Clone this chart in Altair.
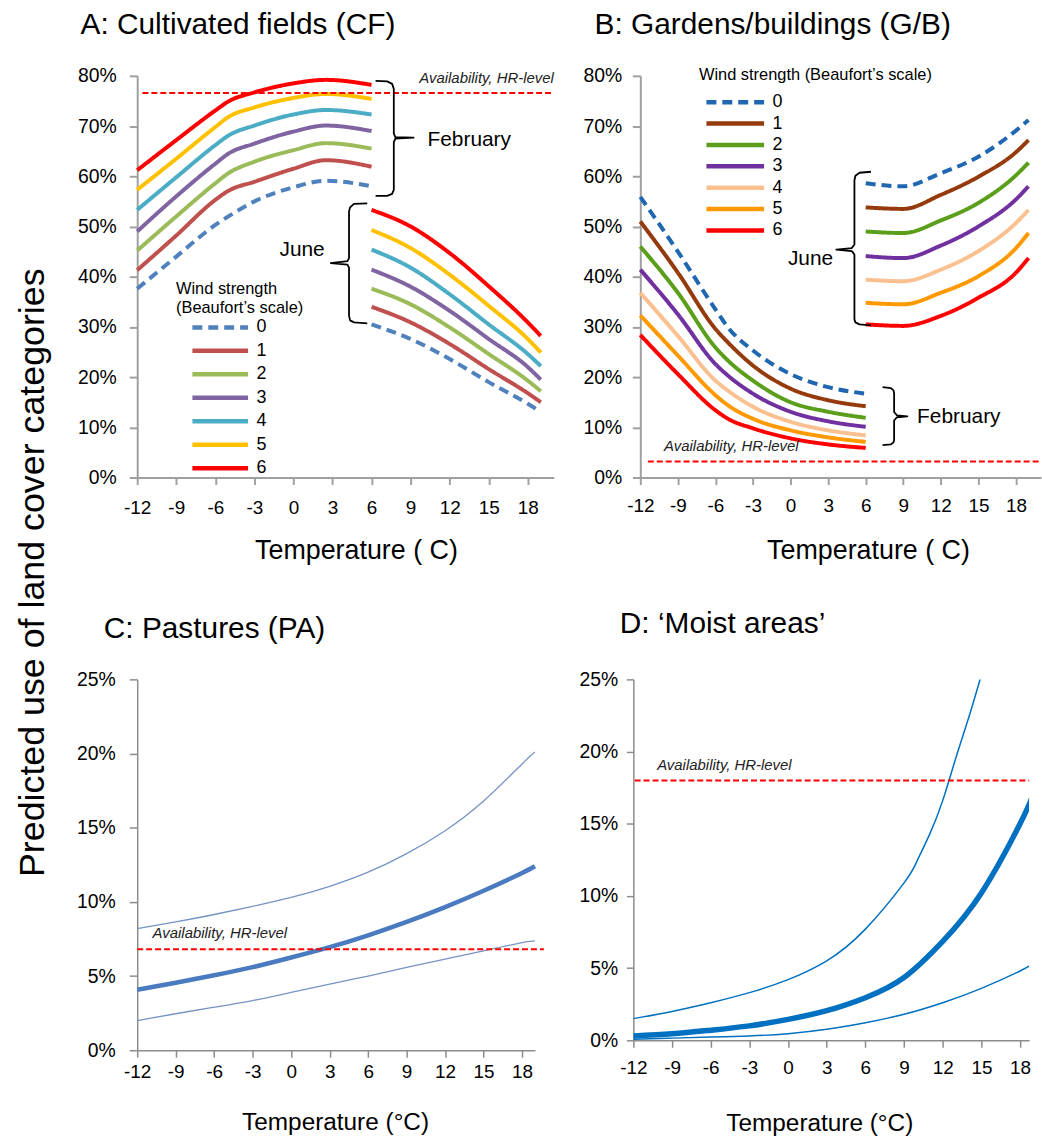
import altair as alt
import pandas as pd

FONT = "Liberation Sans"

wind_levels = ["0", "1", "2", "3", "4", "5", "6"]
x_ticks = [-12, -9, -6, -3, 0, 3, 6, 9, 12, 15, 18]

# ---------------- Panel A: Cultivated fields (CF), values in % ----------------
a_feb_temp = [-12, -9, -6, -5, -3, 0, 2.5, 6]
a_feb = [
    [37.6, 44.0, 50.3, 52.0, 55.0, 57.8, 59.1, 58.0],
    [41.3, 48.2, 55.3, 57.1, 58.9, 61.5, 63.2, 61.9],
    [45.2, 52.0, 58.6, 60.6, 62.9, 65.2, 66.6, 65.5],
    [49.0, 56.0, 62.5, 64.5, 66.5, 68.9, 70.1, 69.0],
    [53.3, 59.8, 66.2, 68.1, 70.1, 72.3, 73.2, 72.3],
    [57.3, 63.5, 69.8, 71.8, 73.7, 75.6, 76.4, 75.4],
    [61.2, 67.2, 73.1, 74.9, 76.7, 78.5, 79.2, 78.2],
]
a_jun_temp = [6, 9, 12, 15, 18, 19]
a_jun = [
    [30.5, 27.6, 23.6, 19.0, 14.7, 13.1],
    [34.0, 30.9, 26.6, 21.6, 16.8, 15.0],
    [37.6, 34.5, 29.9, 24.6, 19.3, 17.2],
    [41.4, 38.0, 33.2, 27.6, 22.0, 19.5],
    [45.4, 41.8, 36.5, 30.5, 24.6, 22.2],
    [49.3, 45.7, 40.4, 34.2, 27.6, 24.9],
    [53.3, 50.0, 44.7, 38.1, 30.9, 28.2],
]
a_colors = ["#4F81BD", "#C0504D", "#9BBB59", "#8064A2", "#4BACC6", "#FFC000", "#FF0000"]
a_avail = 76.6

# ---------------- Panel B: Gardens/buildings (G/B) ----------------
b_feb_temp = [-12, -9, -6, -5, -3, 0, 3, 6]
b_feb = [
    [55.9, 45.0, 33.5, 29.9, 25.3, 20.6, 18.0, 16.7],
    [51.0, 40.8, 29.6, 26.9, 22.3, 17.7, 15.4, 14.2],
    [46.0, 36.8, 25.9, 23.3, 19.3, 15.0, 13.1, 11.9],
    [41.4, 32.5, 22.6, 20.3, 16.7, 13.1, 11.2, 10.1],
    [36.8, 28.2, 19.3, 17.3, 14.1, 11.1, 9.4, 8.4],
    [32.3, 24.3, 16.4, 14.4, 11.7, 9.4, 8.0, 7.1],
    [28.4, 20.6, 13.4, 11.7, 9.8, 7.8, 6.6, 5.9],
]
b_jun_temp = [6, 9, 12, 15, 18, 19]
b_jun = [
    [58.6, 58.0, 60.6, 63.9, 69.1, 71.2],
    [53.8, 53.5, 56.3, 59.9, 64.8, 67.2],
    [49.0, 48.7, 51.2, 54.7, 60.2, 62.7],
    [44.1, 43.7, 46.2, 50.0, 55.4, 58.0],
    [39.4, 39.1, 41.4, 45.1, 50.7, 53.3],
    [34.8, 34.5, 36.8, 40.1, 45.7, 48.7],
    [30.5, 30.2, 32.2, 35.8, 40.8, 43.7],
]
b_colors = ["#1F67B1", "#953A0C", "#5A9E1A", "#7030A0", "#FAC090", "#FF9900", "#FF0000"]
b_avail = 3.2

# ---------------- Panel C: Pastures (PA) ----------------
c_temp = [-12, -9, -6, -3, 0, 3, 6, 9, 12, 15, 18, 19]
c_upper = [8.2, 8.65, 9.15, 9.7, 10.3, 11.05, 12.0, 13.25, 14.8, 16.8, 19.3, 20.1]
c_mean = [4.08, 4.55, 5.05, 5.6, 6.25, 6.95, 7.75, 8.65, 9.65, 10.75, 11.95, 12.4]
c_lower = [2.0, 2.46, 2.9, 3.35, 3.9, 4.46, 5.0, 5.58, 6.14, 6.7, 7.25, 7.37]
c_avail = 6.8

# ---------------- Panel D: 'Moist areas' ----------------
d_upper_temp = [-12, -9, -6, -3, 0, 3, 6, 9, 10, 11, 12, 13, 14, 14.9]
d_upper = [1.5, 2.0, 2.6, 3.3, 4.2, 5.5, 7.7, 10.9, 12.4, 14.3, 16.6, 19.5, 22.3, 25.0]
d_temp = [-12, -9, -6, -3, 0, 3, 6, 9, 12, 15, 18, 19]
d_mean = [0.3, 0.45, 0.7, 1.0, 1.45, 2.05, 2.95, 4.35, 6.85, 10.2, 15.0, 17.0]
d_lower = [0.07, 0.15, 0.22, 0.3, 0.46, 0.76, 1.22, 1.8, 2.6, 3.6, 4.8, 5.3]
d_avail = 18.0

# ---------------- annotation shapes (brackets), in data units ----------------
a_feb_brace_t = [6.31, 7.20, 7.58, 7.71, 7.71, 7.83, 9.23, 7.83, 7.71, 7.71, 7.58, 7.20, 6.31]
a_feb_brace_v = [79.0, 78.9, 78.4, 77.4, 68.5, 67.8, 67.7, 67.5, 66.8, 57.3, 56.5, 56.1, 56.1]
a_jun_brace_t = [5.67, 4.65, 4.35, 4.27, 4.27, 4.15, 2.87, 4.15, 4.27, 4.27, 4.35, 4.65, 5.67]
a_jun_brace_v = [54.6, 54.5, 53.8, 53.0, 43.7, 43.1, 42.7, 42.4, 41.8, 32.2, 31.3, 30.9, 30.7]
b_jun_brace_t = [6.42, 5.50, 5.18, 5.10, 5.10, 4.89, 3.65, 4.89, 5.10, 5.10, 5.18, 5.50, 6.42]
b_jun_brace_v = [60.9, 60.7, 60.1, 59.2, 46.4, 45.7, 45.4, 45.1, 44.4, 31.5, 30.9, 30.5, 30.3]
b_feb_brace_t = [7.35, 8.01, 8.22, 8.27, 8.27, 8.49, 9.33, 8.49, 8.27, 8.27, 8.22, 8.01, 7.35]
b_feb_brace_v = [18.0, 17.8, 17.35, 16.7, 13.06, 12.4, 12.2, 12.0, 11.35, 7.45, 7.0, 6.6, 6.46]


def wind_rows(temps_feb, feb, temps_jun, jun):
    rows = []
    for w, vf, vj in zip(wind_levels, feb, jun):
        for t, v in zip(temps_feb, vf):
            rows.append({"wind": w, "month": "Feb", "temp": t, "val": v / 100})
        for t, v in zip(temps_jun, vj):
            rows.append({"wind": w, "month": "Jun", "temp": t, "val": v / 100})
    return pd.DataFrame(rows)


def curve_df(temps, vals):
    return pd.DataFrame({"temp": temps, "val": [v / 100 for v in vals]})


def brace_df(parts):
    rows = []
    for k, (ts, vs) in enumerate(parts):
        for i, (t, v) in enumerate(zip(ts, vs)):
            rows.append({"b": k, "i": i, "temp": t, "val": v / 100})
    return pd.DataFrame(rows)


def text_df(t, v, label):
    return pd.DataFrame({"temp": [t], "val": [v / 100], "label": [label]})


def rule_df(t1, t2, v):
    return pd.DataFrame({"temp": [t1], "temp2": [t2], "val": [v / 100]})


def x_enc(dmax, title, tx, ty, lpad, tsize, dcol, dw):
    return alt.X(
        "temp:Q",
        scale=alt.Scale(domain=[-12, dmax], nice=False, zero=False),
        axis=alt.Axis(
            values=x_ticks, grid=False, labelFlush=False, labelOverlap=False,
            labelExpr="'' + datum.value",
            labelFont=FONT, labelFontSize=19, labelColor="#000", labelPadding=lpad,
            tickSize=7, tickColor=dcol, tickWidth=dw, domainColor=dcol, domainWidth=dw,
            title=title, titleX=tx, titleY=ty, titleAlign="center", titleBaseline="middle",
            titleFont=FONT, titleFontSize=tsize, titleFontWeight="normal", titleColor="#000",
        ),
    )


def y_enc(dmax, step, lpad, tick, dcol, dw):
    vals = [round(i * step, 4) for i in range(int(round(dmax / step)) + 1)]
    return alt.Y(
        "val:Q",
        scale=alt.Scale(domain=[0, dmax], nice=False, zero=True),
        axis=alt.Axis(
            values=vals, format=".0%", grid=False, title=None,
            labelFont=FONT, labelFontSize=19.5, labelColor="#000", labelPadding=lpad,
            tickSize=tick, tickColor=dcol, tickWidth=dw, domainColor=dcol, domainWidth=dw,
        ),
    )


def avail_layers(x, y, t1, t2, v, tt, tv, talign):
    rule = alt.Chart(rule_df(t1, t2, v)).mark_rule(
        color="#FF0000", strokeWidth=2, strokeDash=[6, 3]
    ).encode(x=x, x2="temp2:Q", y=y)
    txt = alt.Chart(text_df(tt, tv, "Availability, HR-level")).mark_text(
        font=FONT, fontSize=15, fontStyle="italic", color="#222", align=talign, baseline="middle"
    ).encode(x=x, y=y, text="label:N")
    return [rule, txt]


def note(x, y, t, v, label, align):
    return alt.Chart(text_df(t, v, label)).mark_text(
        font=FONT, fontSize=21, color="#000", align=align, baseline="middle"
    ).encode(x=x, y=y, text="label:N")


def braces(x, y, parts):
    return alt.Chart(brace_df(parts)).mark_line(
        color="#000", strokeWidth=1.8, strokeJoin="round"
    ).encode(x=x, y=y, detail="b:N", order="i:Q")


def wind_lines(df, x, y, colors, legend):
    dashes = [[10, 6]] + [[1, 0]] * 6
    return alt.Chart(df).mark_line(strokeWidth=4, interpolate="monotone").encode(
        x=x, y=y,
        color=alt.Color("wind:N", scale=alt.Scale(domain=wind_levels, range=colors), legend=legend),
        strokeDash=alt.StrokeDash("wind:N", scale=alt.Scale(domain=wind_levels, range=dashes), legend=legend),
        detail="month:N",
    )


def panel_title(text, dx, dy=0):
    return alt.TitleParams(
        text, anchor="start", frame="group", dx=dx, dy=dy, offset=26,
        font=FONT, fontSize=30, fontWeight="normal", color="#000",
    )


AB_COL, CD_COL = "#A0A0A0", "#8C8C8C"

# ---------- A ----------
xA = x_enc(20, "Temperature (  C)", 220, 73, 13.7, 27, AB_COL, 2)
yA = y_enc(0.8, 0.1, 13, 8, AB_COL, 2)
legA = alt.Legend(
    title=["Wind strength", "(Beaufort\u2019s scale)"], orient="none", legendX=39, legendY=206,
    titleFont=FONT, titleFontSize=16.5, titleFontWeight="normal", titleColor="#000",
    titleLineHeight=20, titlePadding=2, titleLimit=400,
    labelFont=FONT, labelFontSize=18, labelColor="#000", labelOffset=6,
    symbolType="stroke", symbolSize=56 * 56, symbolStrokeWidth=4.5, symbolOffset=14,
    clipHeight=17, rowPadding=4.6,
)
chartA = alt.layer(
    wind_lines(wind_rows(a_feb_temp, a_feb, a_jun_temp, a_jun), xA, yA, a_colors, legA),
    *avail_layers(xA, yA, -11.6, 20, a_avail, 20, 79.6, "right"),
    braces(xA, yA, [(a_feb_brace_t, a_feb_brace_v), (a_jun_brace_t, a_jun_brace_v)]),
    note(xA, yA, 10.3, 67.3, "February", "left"),
    note(xA, yA, 2.4, 45.4, "June", "right"),
).properties(width=419, height=404, title=panel_title("A: Cultivated fields (CF)", -57))

# ---------- B ----------
xB = x_enc(20, "Temperature (  C)", 229, 73, 11.7, 27, AB_COL, 2)
yB = y_enc(0.8, 0.1, 10.7, 8, AB_COL, 2)
legB = alt.Legend(
    title="Wind strength  (Beaufort\u2019s  scale)", orient="none", legendX=59, legendY=-9,
    titleFont=FONT, titleFontSize=16.5, titleFontWeight="normal", titleColor="#000",
    titlePadding=11, titleLimit=400,
    labelFont=FONT, labelFontSize=18, labelColor="#000", labelOffset=6,
    symbolType="stroke", symbolSize=58 * 58, symbolStrokeWidth=4.5, symbolOffset=5,
    clipHeight=16, rowPadding=3.5,
)
chartB = alt.layer(
    wind_lines(wind_rows(b_feb_temp, b_feb, b_jun_temp, b_jun), xB, yB, b_colors, legB),
    *avail_layers(xB, yB, -11.4, 20, b_avail, -10.1, 6.26, "left"),
    braces(xB, yB, [(b_feb_brace_t, b_feb_brace_v), (b_jun_brace_t, b_jun_brace_v)]),
    note(xB, yB, 10.1, 12.07, "February", "left"),
    note(xB, yB, 3.4, 43.5, "June", "right"),
).properties(width=403, height=404, title=panel_title("B: Gardens/buildings (G/B)", -46))

# ---------- C ----------
xC = x_enc(19, "Temperature (\u00b0C)", 199, 73, 5.5, 24.5, CD_COL, 1.5)
yC = y_enc(0.25, 0.05, 14, 8, CD_COL, 1.5)
chartC = alt.layer(
    alt.Chart(curve_df(c_temp, c_upper)).mark_line(color="#7593C4", strokeWidth=1.3, interpolate="natural").encode(x=xC, y=yC),
    alt.Chart(curve_df(c_temp, c_lower)).mark_line(color="#7593C4", strokeWidth=1.3, interpolate="natural").encode(x=xC, y=yC),
    alt.Chart(curve_df(c_temp, c_mean)).mark_line(color="#4A7AC0", strokeWidth=4.5, interpolate="natural").encode(x=xC, y=yC),
    *avail_layers(xC, yC, -12, 19.7, c_avail, -10.8, 7.93, "left"),
).properties(width=400, height=373, title=panel_title("C: Pastures (PA)", -33.6))

# ---------- D ----------
xD = x_enc(18.7, "Temperature (\u00b0C)", 187, 84, 11, 24.5, CD_COL, 1.5)
yD = y_enc(0.25, 0.05, 8.6, 7, CD_COL, 1.5)
chartD = alt.layer(
    alt.Chart(curve_df(d_upper_temp, d_upper)).mark_line(color="#0070C0", strokeWidth=1.5, interpolate="natural", clip=True).encode(x=xD, y=yD),
    alt.Chart(curve_df(d_temp, d_lower)).mark_line(color="#0070C0", strokeWidth=1.5, interpolate="natural", clip=True).encode(x=xD, y=yD),
    alt.Chart(curve_df(d_temp, d_mean)).mark_line(color="#0070C0", strokeWidth=5.5, interpolate="natural", clip=True).encode(x=xD, y=yD),
    *avail_layers(xD, yD, -11.9, 18.7, d_avail, -10.15, 19.1, "left"),
).properties(width=398, height=363, title=panel_title("D: \u2018Moist areas\u2019", -13.6, -5))

row1 = alt.hconcat(chartA, chartB, spacing=28).resolve_scale(
    color="independent", strokeDash="independent", x="independent", y="independent")
row2 = alt.hconcat(chartC, chartD, spacing=33).resolve_scale(x="independent", y="independent")

chart = alt.vconcat(
    row1, row2, spacing=46,
    title=alt.TitleParams(
        "Predicted use of land cover categories", orient="left", anchor="middle",
        font=FONT, fontSize=36, fontWeight="normal", color="#000", offset=25,
    ),
).resolve_scale(
    color="independent", strokeDash="independent", x="independent", y="independent"
).properties(
    padding={"left": 14, "top": 7, "right": 0, "bottom": 0}
).configure(font=FONT).configure_view(stroke=None)

chart.save("out.html", embed_options={"renderer": "svg", "actions": False})
